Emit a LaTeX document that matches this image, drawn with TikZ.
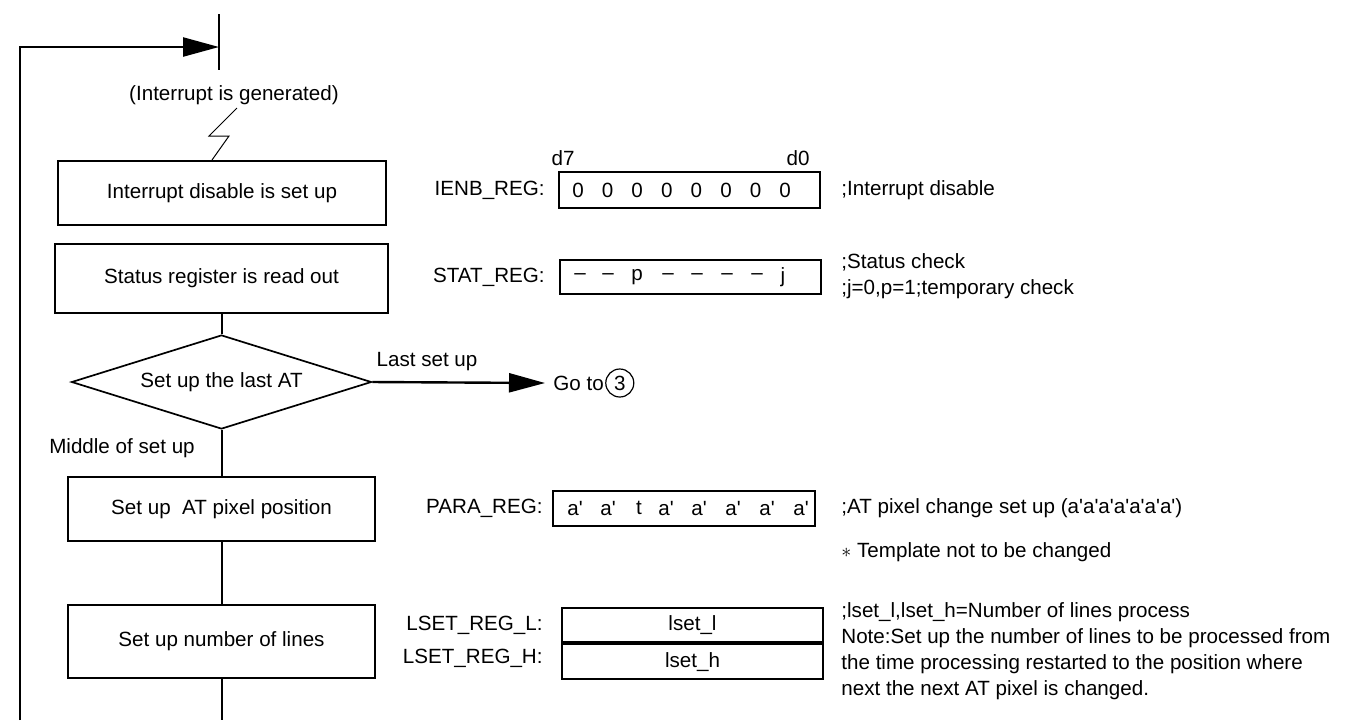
\documentclass[tikz,border=0pt]{standalone}
\usepackage{fontspec}
\setmainfont{Liberation Sans}
\usepackage{tikz}
\usetikzlibrary{shapes.geometric,arrows.meta,positioning}

\newcommand{\apos}{\textquotesingle}

\begin{document}
\begin{tikzpicture}[x=0.5pt, y=-0.5pt,
  font=\fontsize{10.3pt}{13pt}\selectfont,
  flowBox/.style={draw, line width=0.85pt, inner sep=0pt},
  decisionStyle/.style={draw, diamond, aspect=3.2, line width=0.85pt, inner sep=0pt, minimum width=150pt, minimum height=47pt},
  regBox/.style={draw, line width=1.15pt, inner sep=0pt},
  flowLine/.style={line width=1pt},
  bigArrow/.style={line width=1.2pt, -{Triangle[length=18pt, width=9.5pt]}},
  noteText/.style={anchor=west, align=left, inner sep=0pt}
]
\useasboundingbox (0,0) rectangle (1370,720);

% flow chart
\coordinate (entryTop) at (219,14);
\coordinate (entryMid) at (219,47);
\coordinate (entryBot) at (219,70);
\coordinate (loopEnd)  at (20,720);
\draw [flowLine] (entryTop) -- (entryBot);
\draw [bigArrow] (loopEnd) |- (entryMid);

\node (irqText) at (234,95) {(Interrupt is generated)};
\draw [line width=0.5pt] (237,108) -- (209,136) -- (229,136) -- (212,160);

\node [flowBox, minimum width=164pt, minimum height=32pt] (disableBox) at (222,193) {Interrupt disable is set up};
\node [flowBox, minimum width=166.5pt, minimum height=34.5pt] (statusBox) at (221.5,278.5) {Status register is read out};
\node [decisionStyle] (lastAt) at (221.5,382) {Set up the last AT};
\node [flowBox, minimum width=153.5pt, minimum height=32pt] (pixelBox) at (221.5,509) {Set up\ \ AT pixel position};
\node [flowBox, minimum width=153.5pt, minimum height=36.5pt] (linesBox) at (221.5,641.5) {Set up number of lines};
\coordinate (exitEnd) at (221.5,720);

\draw [flowLine] (statusBox) -- (lastAt);
\draw [flowLine] (lastAt) -- (pixelBox);
\draw [flowLine] (pixelBox) -- (linesBox);
\draw [flowLine] (linesBox) -- (exitEnd);

\node (middleText) at (122,448) {Middle of set up};

% branch to 3
\node [anchor=west, inner sep=0pt] (gotoText) at (553,383) {Go to};
\node [draw, circle, line width=0.6pt, minimum size=14pt, inner sep=0pt, right=0.5pt of gotoText] (goCircle) {3};
\draw [bigArrow] (lastAt.east) -- ([xshift=-4pt]gotoText.west);
\node (lastText) at (427,362) {Last set up};

% registers
\node (dSeven) at (563,158) {d7};
\node (dZero) at (798,158) {d0};

\node [regBox, minimum width=130.5pt, minimum height=18pt] (ienbBox) at (689.5,190) {};
\node [anchor=east, inner sep=0pt] (ienbLabel) at (545,190) {IENB\_REG:};
\foreach \i in {0,...,7}
  \node (ienb\i) at (578+29.6*\i,190) {0};

\node [regBox, minimum width=130.5pt, minimum height=17pt] (statBox) at (690.5,277) {};
\node [anchor=east, inner sep=0pt] (statLabel) at (545,277) {STAT\_REG:};
\foreach \x/\t [count=\i] in {580/--,608/--,637/p,668/--,697/--,727/--,757/--,783/j}
  \node (stat\i) at (\x,277) {\t};

\node [regBox, minimum width=131pt, minimum height=17.5pt] (paraBox) at (684,508.5) {};
\node [anchor=east, inner sep=0pt] (paraLabel) at (543,508) {PARA\_REG:};
\foreach \x/\t [count=\i] in {575/a\apos,608/a\apos,639/t,666/a\apos,699/a\apos,733/a\apos,767/a\apos,801/a\apos}
  \node (para\i) at (\x,508) {\t};

\node [regBox, minimum width=130.5pt, minimum height=17pt] (lsetLow) at (692.5,625) {lset\_l};
\node [regBox, minimum width=130.5pt, minimum height=17.5pt, below=0pt of lsetLow] (lsetHigh) {lset\_h};
\node [anchor=east, inner sep=0pt] (lowLabel) at (543,625) {LSET\_REG\_L:};
\node [anchor=east, inner sep=0pt] (highLabel) at (543,658) {LSET\_REG\_H:};

% comments
\node [noteText] (ienbNote) at (841,190) {;Interrupt disable};
\node [noteText] (statNote) at (841,276) {;Status check\\;j=0,p=1;temporary check};
\node [noteText] (paraNote) at (841,508) {;AT pixel change set up (a\apos a\apos a\apos a\apos a\apos a\apos a\apos)};
\node [noteText] (tmplNote) at (841,552) {$\ast$ Template not to be changed};
\node [noteText] (lsetNote) at (841,651) {;lset\_l,lset\_h=Number of lines process\\Note:Set up the number of lines to be processed from\\the time processing restarted to the position where\\next the next AT pixel is changed.};
\end{tikzpicture}
\end{document}
